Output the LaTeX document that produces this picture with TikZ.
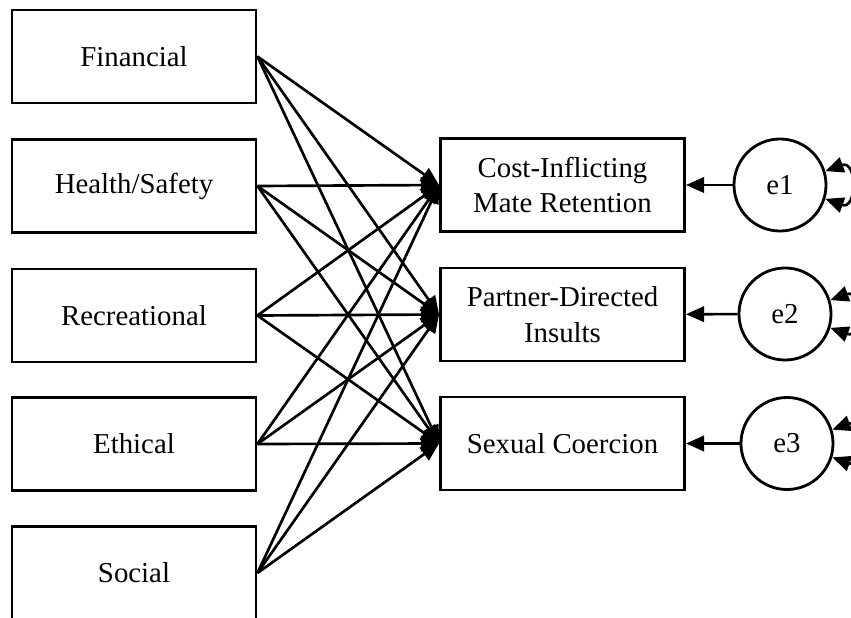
\documentclass[tikz,border=0pt]{standalone}
\usepackage{fontspec}
\setmainfont{Liberation Serif}
\usetikzlibrary{arrows.meta}

\tikzset{
	caixa/.style={draw, line width=2pt, minimum width=6.1cm, minimum height=2.32cm,
		align=center, inner sep=2pt, font=\fontsize{20.5}{25.5}\selectfont},
	erro/.style={draw, circle, line width=2pt, minimum size=2.3cm, inner sep=0pt,
		font=\fontsize{20.5}{25.5}\selectfont},
	seta/.style={line width=1.9pt, -{Triangle[length=13pt, width=11pt]}},
	laco/.style={line width=1.9pt, {Triangle[length=13pt, width=11pt]}-{Triangle[length=13pt, width=11pt]}},
}

\begin{document}
\begin{tikzpicture}[x=0.025cm, y=-0.025cm]
			\useasboundingbox (0, 0) rectangle (851, 618);
			\clip (0, 0) rectangle (851, 618);
			% preditores
			\node[caixa] (fin) at (134, 56.5) {Financial};
			\node[caixa] (hea) at (134, 186) {Health/Safety};
			\node[caixa] (rec) at (134, 315.5) {Recreational};
			\node[caixa] (eth) at (134, 444) {Ethical};
			\node[caixa] (soc) at (134, 573) {Social};
			% desfechos
			\node[caixa] (cim) at (562.5, 185) {Cost-Inflicting\\Mate Retention};
			\node[caixa] (pdi) at (562.5, 314.5) {Partner-Directed\\Insults};
			\node[caixa] (sco) at (562.5, 443.5) {Sexual Coercion};
			% erros
			\node[erro] (e1) at (780, 185) {e1};
			\node[erro] (e2) at (785, 314) {e2};
			\node[erro] (e3) at (787, 443.5) {e3};
			% caminhos
			\foreach \a in {fin, hea, rec, eth, soc} {
					\foreach \b in {cim, pdi, sco} {
							\draw[seta] (\a.east) -- (\b.west);
						}
				}
			\foreach \e/\b in {e1/cim, e2/pdi, e3/sco} {
					\draw[seta] (\e) -- (\b);
					\draw[laco] (\e.17) .. controls +(20:0.85cm) and +(-20:0.85cm) .. (\e.-17);
				}
		\end{tikzpicture}
\end{document}
